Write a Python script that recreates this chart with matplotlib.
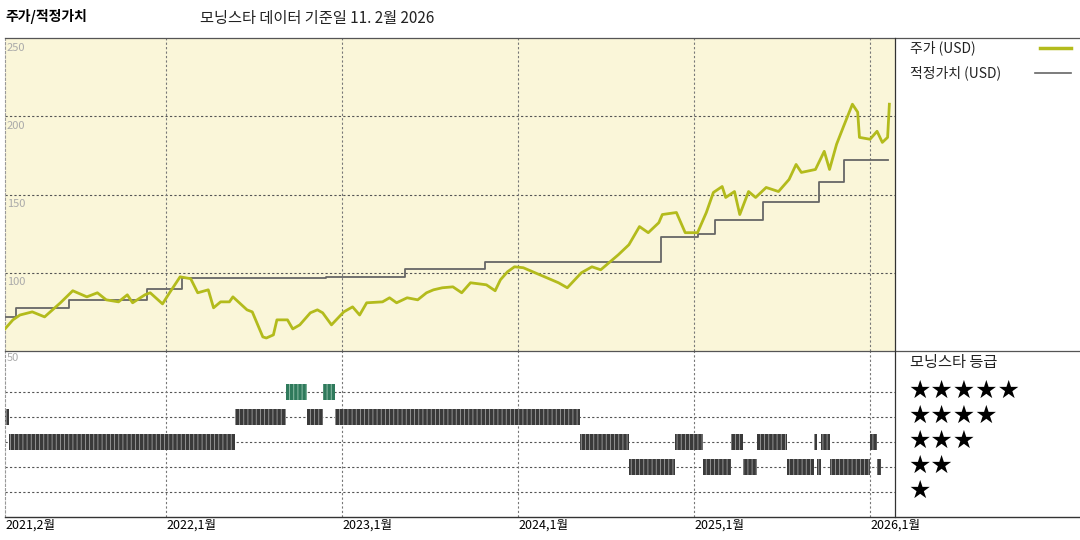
import matplotlib
matplotlib.use("Agg")
import matplotlib.pyplot as plt
from matplotlib.lines import Line2D

FAM = ['Noto Sans CJK KR', 'DejaVu Sans']
plt.rcParams['font.family'] = FAM
plt.rcParams['hatch.linewidth'] = 0.6

# ---- data (decimal years) ----
price_t = [2021.07, 2021.13, 2021.17, 2021.24, 2021.31, 2021.40, 2021.47, 2021.55, 2021.61, 2021.66,
           2021.73, 2021.78, 2021.81, 2021.88, 2021.91, 2021.98, 2022.02, 2022.08, 2022.14, 2022.18,
           2022.24, 2022.27, 2022.31, 2022.36, 2022.38, 2022.46, 2022.49, 2022.55, 2022.57, 2022.61,
           2022.63, 2022.69, 2022.72, 2022.76, 2022.82, 2022.86, 2022.89, 2022.94, 2023.01, 2023.06,
           2023.10, 2023.14, 2023.23, 2023.27, 2023.31, 2023.37, 2023.43, 2023.48, 2023.52, 2023.57,
           2023.63, 2023.68, 2023.73, 2023.82, 2023.87, 2023.90, 2023.94, 2023.98, 2024.03, 2024.23,
           2024.28, 2024.36, 2024.42, 2024.47, 2024.57, 2024.63, 2024.69, 2024.74, 2024.80, 2024.82,
           2024.90, 2024.95, 2025.02, 2025.07, 2025.11, 2025.16, 2025.18, 2025.23, 2025.26, 2025.31,
           2025.35, 2025.41, 2025.48, 2025.54, 2025.58, 2025.61, 2025.69, 2025.74, 2025.77, 2025.81,
           2025.85, 2025.90, 2025.93, 2025.94, 2026.00, 2026.04, 2026.07, 2026.10, 2026.11]
price_v = [62.2, 69.9, 73.0, 75.0, 71.8, 80.8, 88.5, 84.6, 87.2, 82.7,
           81.4, 85.9, 80.8, 85.9, 87.2, 80.1, 87.2, 97.4, 96.2, 87.2,
           89.1, 77.6, 81.4, 81.4, 84.6, 76.3, 75.0, 59.0, 58.3, 60.3,
           69.9, 69.9, 64.1, 66.7, 74.4, 76.3, 74.4, 66.7, 75.0, 78.2,
           73.0, 80.8, 81.4, 84.0, 80.8, 84.0, 82.7, 87.2, 89.1, 90.4,
           91.0, 87.2, 93.6, 92.3, 88.5, 95.5, 100.6, 103.8, 103.2, 93.6,
           90.4, 100.0, 103.8, 101.9, 111.5, 117.9, 129.5, 125.6, 132.0, 137.2,
           138.5, 125.6, 125.6, 138.5, 151.3, 155.1, 148.1, 151.9, 137.2, 151.9,
           148.1, 154.5, 151.9, 159.6, 169.2, 164.1, 166.0, 177.6, 166.0, 182.1,
           193.6, 207.7, 202.6, 186.5, 185.3, 190.4, 183.3, 186.5, 207.7]

fair_t = [2021.07, 2021.15, 2021.45, 2021.89, 2022.09, 2022.91, 2023.36, 2023.81,
          2024.81, 2025.02, 2025.12, 2025.39, 2025.71, 2025.85, 2026.10]
fair_v = [71.8, 77.6, 82.7, 89.7, 96.8, 97.4, 102.6, 107.0,
          123.0, 125.0, 134.0, 145.5, 157.7, 171.8, 171.8]

rating_start = [2021.07, 2021.11, 2022.39, 2022.68, 2022.80, 2022.89, 2022.96, 2024.35, 2024.63, 2024.89,
                2025.05, 2025.21, 2025.28, 2025.36, 2025.53, 2025.68, 2025.70, 2025.72, 2025.77, 2026.00, 2026.04]
rating_end = [2021.11, 2022.39, 2022.68, 2022.80, 2022.89, 2022.96, 2024.35, 2024.63, 2024.89, 2025.05,
              2025.21, 2025.28, 2025.36, 2025.53, 2025.68, 2025.70, 2025.72, 2025.77, 2026.00, 2026.04, 2026.06]
rating_stars = [4, 3, 4, 5, 4, 5, 4, 3, 2, 3,
                2, 3, 2, 3, 2, 3, 2, 3, 2, 3, 2]

year_ticks = [2021.085, 2022.0, 2023.0, 2024.0, 2025.0, 2026.0]
year_labels = ['2021,2월', '2022,1월', '2023,1월', '2024,1월', '2025,1월', '2026,1월']
price_ticks = [50, 100, 150, 200, 250]

XMIN, XMAX = 2021.085, 2026.142
W, H = 1080, 540
fig = plt.figure(figsize=(10.8, 5.4), dpi=100)

def fx(px): return px / W
def fy(py): return 1 - py / H

ax = fig.add_axes([fx(5), fy(351), fx(890), (351 - 38) / H])
ax2 = fig.add_axes([fx(5), fy(517), fx(890), (517 - 351) / H])

# top panel
ax.set_facecolor('#faf6d9')
ax.set_xlim(XMIN, XMAX); ax.set_ylim(50, 250)
for v in [100, 150, 200]:
    ax.axhline(v, color='#555555', lw=0.8, ls=(0, (2, 2)))
for t in year_ticks[1:]:
    ax.axvline(t, color='#777777', lw=0.8, ls=(0, (2, 2)))
ax.step(fair_t, fair_v, where='post', color='#666666', lw=1.3, zorder=3)
ax.plot(price_t, price_v, color='#b3bb1c', lw=2.0, zorder=4)
for v in price_ticks[1:]:
    ax.text(XMIN + 0.01, v - 3, str(v), color='#aaaaaa', fontsize=8, va='top', ha='left')
ax.set_xticks([]); ax.set_yticks([])
for s in ax.spines.values():
    s.set_visible(False)
ax.spines['left'].set_visible(True); ax.spines['left'].set_color('#999999'); ax.spines['left'].set_linestyle((0, (2, 2)))

# bottom panel: ratings
ax2.set_xlim(XMIN, XMAX); ax2.set_ylim(0, 6.64)
for r in range(1, 6):
    ax2.axhline(r, color='#555555', lw=0.8, ls=(0, (2, 2)), zorder=1)
for t in year_ticks[1:]:
    ax2.axvline(t, color='#777777', lw=0.8, ls=(0, (2, 2)), zorder=1)
for s0, s1, r in zip(rating_start, rating_end, rating_stars):
    if r == 5:
        fc, ec = '#2f7a5c', '#9cc8b2'
    else:
        fc, ec = '#3a3a3a', '#a0a0a0'
    ax2.broken_barh([(s0, s1 - s0)], (r - 0.32, 0.64), facecolor=fc, edgecolor=ec,
                    hatch='||||', lw=0, zorder=2)
ax2.text(XMIN + 0.01, 6.55, str(price_ticks[0]), color='#aaaaaa', fontsize=8, va='top', ha='left')
ax2.set_yticks([])
ax2.set_xticks(year_ticks)
ax2.set_xticklabels(year_labels, fontsize=9, ha='left')
ax2.tick_params(axis='x', length=0, pad=1)
for s in ax2.spines.values():
    s.set_visible(False)
ax2.spines['left'].set_visible(True); ax2.spines['left'].set_color('#999999'); ax2.spines['left'].set_linestyle((0, (2, 2)))

# frame lines
def hline(py, x0, x1, **kw):
    fig.add_artist(Line2D([fx(x0), fx(x1)], [fy(py), fy(py)], **kw))
def vline(px, y0, y1, **kw):
    fig.add_artist(Line2D([fx(px), fx(px)], [fy(y0), fy(y1)], **kw))
hline(37.5, 5, 1080, color='#555555', lw=0.9)
hline(351, 5, 1080, color='#555555', lw=0.9)
hline(517, 5, 1080, color='#333333', lw=1.0)
vline(895, 37.5, 517, color='#333333', lw=0.9)

# titles
fig.text(fx(5), fy(17), '주가/적정가치', fontsize=10, fontweight='bold', va='center')
fig.text(fx(200), fy(19), '모닝스타 데이터 기준일 11. 2월 2026', fontsize=11, va='center', color='#222222')

# legend
fig.text(fx(910), fy(48), '주가 (USD)', fontsize=10, va='center', color='#222222')
fig.add_artist(Line2D([fx(1040), fx(1071)], [fy(48), fy(48)], color='#b3bb1c', lw=2.5))
fig.text(fx(910), fy(73), '적정가치 (USD)', fontsize=10, va='center', color='#222222')
fig.add_artist(Line2D([fx(1035), fx(1071)], [fy(73), fy(73)], color='#666666', lw=1.2))
fig.text(fx(910), fy(363), '모닝스타 등급', fontsize=11, va='center', color='#222222')
for r in range(5, 0, -1):
    fig.text(fx(908), fy(391 + (5 - r) * 25), '★' * r, fontsize=18, va='center',
             family=['DejaVu Sans'], color='black')

fig.savefig('out.png', dpi=100)
